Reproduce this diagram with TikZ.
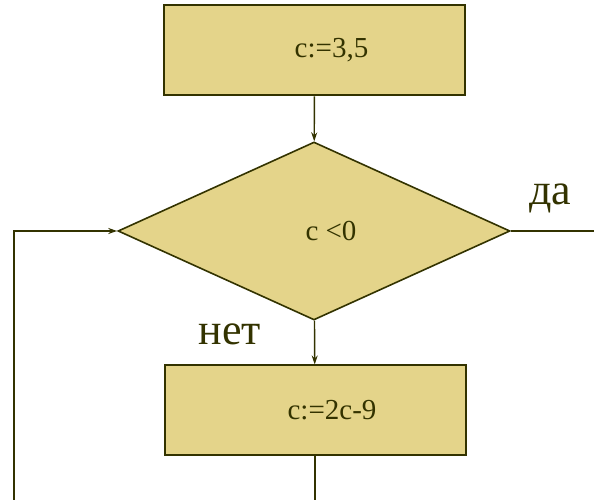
\documentclass[tikz,border=0pt]{standalone}
\usepackage{fontspec}
\setmainfont{Liberation Serif}
\usetikzlibrary{shapes.geometric, arrows.meta}
\definecolor{boxfill}{RGB}{228,212,138}
\definecolor{ink}{RGB}{51,51,0}
\newcommand{\boxtext}[1]{\hspace*{34pt}\raisebox{-3pt}{#1}}

\begin{document}
\begin{tikzpicture}[
		x=1pt, y=1pt,
		every node/.style={text=ink, font=\fontsize{29}{34}\selectfont},
		procbox/.style={rectangle, draw=ink, fill=boxfill, line width=2pt, minimum width=301pt, minimum height=90pt},
		testbox/.style={diamond, draw=ink, fill=boxfill, line width=1.6pt, minimum width=392pt, minimum height=178pt, inner sep=0pt},
		flow/.style={draw=ink, line width=1.4pt},
		arr/.style={flow, -{Stealth[length=9pt, width=6pt]}},
		answer/.style={font=\fontsize{44}{50}\selectfont}
	]
  \useasboundingbox (0,0) rectangle (594,500);
  \node (init) [procbox] at (314.5, 449.5) {\boxtext{c:=3,5}};
  \node (test) [testbox] at (314, 269) {\boxtext{c <0}};
  \node (step2) [procbox] at (315, 89.5) {\boxtext{c:=2c-9}};
  \node (yes) [answer] at (550, 302) {да};
  \node (no) [answer] at (230, 166) {нет};
  \coordinate (yes_out) at (594, 269);
  \coordinate (step2_out) at (315, 0);
  \coordinate (loop_in) at (14, 0);
  \draw [arr] (init) -- (test);
  \draw [arr] (test) -- (step2);
  \draw [flow] (test.east) -- (yes_out);
  \draw [flow] (step2) -- (step2_out);
  \draw [arr] (loop_in) |- (test.west);
\end{tikzpicture}
\end{document}
